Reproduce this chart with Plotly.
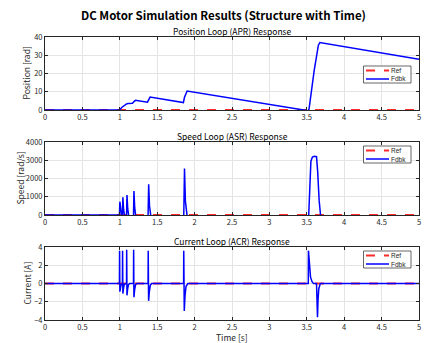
import plotly.graph_objects as go

# ---------------- data ----------------
ref_t = [0, 5]
pos_ref = [0, 0]
spd_ref = [0, 0]
cur_ref = [0, 0]

pos_t = [0, 0.995, 1.03, 1.06, 1.09, 1.11, 1.17, 1.19, 1.21, 1.37, 1.385, 1.405,
         1.85, 1.865, 1.9, 3.52, 3.53, 3.6, 3.655, 3.675, 5.0]
pos_v = [0, 0, 1.5, 2.6, 3.3, 3.5, 3.7, 4.6, 5.3, 4.3, 5.6, 7.1,
         4.1, 7.0, 10.4, -0.4, 0.5, 22.0, 35.5, 37.0, 27.8]

spd_t = [0, 0.995, 1.001, 1.011, 1.025,
         1.035, 1.041, 1.051, 1.065,
         1.09, 1.096, 1.106, 1.12,
         1.183, 1.189, 1.199, 1.213,
         1.378, 1.386, 1.397, 1.415,
         1.855, 1.865, 1.877, 1.9,
         3.525, 3.54, 3.555, 3.575, 3.6, 3.63, 3.645, 3.665, 3.685, 5.0]
spd_v = [0, 0, 730, 220, -60,
         -60, 970, 290, -60,
         -60, 1090, 330, -60,
         -60, 1320, 400, -60,
         -60, 1680, 500, -60,
         -60, 2550, 760, -60,
         -60, 2000, 2950, 3180, 3220, 3200, 2400, 800, -60, -60]

cur_t = [0, 0.995, 0.997, 1.001, 1.01, 1.02, 1.03,
         1.035, 1.037, 1.041, 1.05, 1.06, 1.075,
         1.09, 1.092, 1.096, 1.105, 1.115, 1.13,
         1.183, 1.185, 1.189, 1.198, 1.21, 1.225,
         1.378, 1.38, 1.385, 1.395, 1.408, 1.425,
         1.853, 1.855, 1.862, 1.872, 1.886, 1.91,
         3.52, 3.522, 3.535, 3.55, 3.57, 3.59,
         3.63, 3.643, 3.65, 3.66, 3.68, 5.0]
cur_v = [0, 0, 3.6, -0.9, -0.45, -0.1, 0,
         0, 3.6, -1.1, -0.5, -0.1, 0,
         0, 3.7, -1.3, -0.6, -0.15, 0,
         0, 3.7, -1.5, -0.7, -0.15, 0,
         0, 3.6, -1.9, -0.85, -0.2, 0,
         0, 3.6, -3.0, -1.3, -0.3, 0,
         0, 3.6, 1.8, 0.7, 0.2, 0,
         0, -3.7, -1.8, -0.6, 0, 0]

x_ticks = [0, 0.5, 1, 1.5, 2, 2.5, 3, 3.5, 4, 4.5, 5]
x_tick_text = ["0", "0.5", "1", "1.5", "2", "2.5", "3", "3.5", "4", "4.5", "5"]
pos_ticks = [0, 10, 20, 30, 40]
spd_ticks = [0, 1000, 2000, 3000, 4000]
cur_ticks = [-4, -2, 0, 2, 4]

main_title = "DC Motor Simulation Results (Structure with Time)"
sub_titles = ["Position Loop (APR) Response", "Speed Loop (ASR) Response",
              "Current Loop (ACR) Response"]
y_labels = ["Position [rad]", "Speed [rad/s]", "Current [A]"]
x_label = "Time [s]"
legend_names = ["Ref", "Fdbk"]

# ---------------- figure ----------------
FONT = "Noto Sans CJK JP, DejaVu Sans, sans-serif"
LFONT = "Liberation Sans, Arial, sans-serif"
TXT = "#262626"
RED = "#ff2a2a"
BLUE = "#0000ff"

W, H = 430, 343
L, R, T, B = 45, 11, 37, 23
PW, PH = W - L - R, H - T - B


def px(x):
    return (x - L) / PW


def py(y):
    return 1 - (y - T) / PH


fig = go.Figure()

series = [
    (pos_t, pos_v, pos_ref, "x", "y"),
    (spd_t, spd_v, spd_ref, "x2", "y2"),
    (cur_t, cur_v, cur_ref, "x3", "y3"),
]
for t, v, r, xa, ya in series:
    fig.add_trace(go.Scatter(x=ref_t, y=r, mode="lines", name=legend_names[0],
                             line=dict(color=RED, width=2, dash="dash"),
                             xaxis=xa, yaxis=ya, showlegend=False))
    fig.add_trace(go.Scatter(x=t, y=v, mode="lines", name=legend_names[1],
                             line=dict(color=BLUE, width=1.5),
                             xaxis=xa, yaxis=ya, showlegend=False))

panel_px = [(37, 110), (142, 215), (247, 320)]
domains = [[py(b), py(t)] for t, b in panel_px]
yranges = [[0, 40], [0, 4000], [-4, 4]]
yticks = [pos_ticks, spd_ticks, cur_ticks]

axis_common = dict(showline=True, linecolor=TXT, linewidth=1, mirror="ticks",
                   ticks="inside", ticklen=3, tickcolor=TXT, automargin=False,
                   showgrid=True, gridcolor="#e4e4e4", gridwidth=1,
                   zeroline=False, ticklabeloverflow="allow",
                   tickfont=dict(size=7.5, color=TXT, family=FONT))

layout = dict(width=W, height=H,
              margin=dict(l=L, r=R, t=T, b=B, autoexpand=False),
              paper_bgcolor="white", plot_bgcolor="white",
              font=dict(family=FONT, color=TXT),
              showlegend=False)

for i in range(3):
    sx = "" if i == 0 else str(i + 1)
    layout["xaxis" + sx] = dict(axis_common, domain=[0, 1], range=[0, 5],
                                tickvals=x_ticks, ticktext=x_tick_text,
                                anchor="y" + sx)
    layout["yaxis" + sx] = dict(axis_common, domain=domains[i], range=yranges[i],
                                tickvals=yticks[i], anchor="x" + sx)

ann = [dict(text="<b>" + main_title + "</b>", xref="paper", yref="paper",
            x=px(223), y=py(15), xanchor="center", yanchor="middle",
            showarrow=False, font=dict(size=11.5, color="black", family=FONT))]
title_py = [31, 136, 241]
ylabel_px = [25, 19, 26]
for i in range(3):
    ann.append(dict(text=sub_titles[i], xref="paper", yref="paper",
                    x=px(232), y=py(title_py[i]), xanchor="center",
                    yanchor="middle", showarrow=False,
                    font=dict(size=8.5, color="black", family=FONT)))
    mid = (panel_px[i][0] + panel_px[i][1]) / 2
    ann.append(dict(text=y_labels[i], xref="paper", yref="paper",
                    x=px(ylabel_px[i]), y=py(mid), xanchor="center",
                    yanchor="middle", textangle=-90, showarrow=False,
                    font=dict(size=8.5, color=TXT, family=FONT)))
ann.append(dict(text=x_label, xref="paper", yref="paper", x=px(232), y=py(337),
                xanchor="center", yanchor="middle", showarrow=False,
                font=dict(size=8.5, color=TXT, family=FONT)))

# legends (MATLAB style boxes)
shapes = []
legend_tops = [66, 146, 251]
for top in legend_tops:
    shapes.append(dict(type="rect", xref="paper", yref="paper",
                       x0=px(363.5), x1=px(411), y0=py(top + 17), y1=py(top),
                       line=dict(color=TXT, width=0.7), fillcolor="white",
                       layer="above"))
    for k, (col, dash, wd) in enumerate([(RED, "dash", 2), (BLUE, "solid", 1.5)]):
        yy = py(top + 4.6 + 8.4 * k)
        shapes.append(dict(type="line", xref="paper", yref="paper",
                           x0=px(366), x1=px(389), y0=yy, y1=yy,
                           line=dict(color=col, width=wd, dash=dash),
                           layer="above"))
        ann.append(dict(text=legend_names[k], xref="paper", yref="paper",
                        x=px(390), y=yy, xanchor="left", yanchor="middle",
                        showarrow=False, borderpad=0,
                        font=dict(size=6.5, color=TXT, family=LFONT)))

layout["annotations"] = ann
layout["shapes"] = shapes

fig.update_layout(**layout)
fig.write_html("out.html", config={"displayModeBar": False},
               post_script="document.body.style.margin='0';"
                           "document.body.style.padding='0';")
